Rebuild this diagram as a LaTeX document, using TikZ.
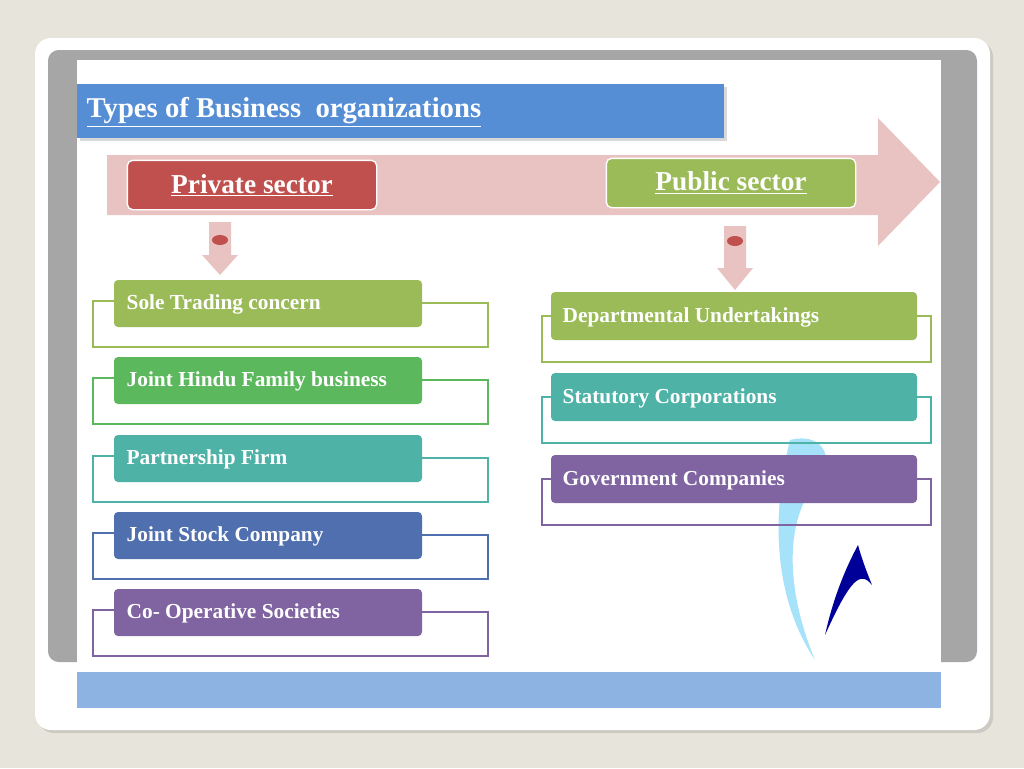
\documentclass[tikz,border=0pt]{standalone}
\usepackage{fontspec}
\setmainfont{Liberation Serif}
\usetikzlibrary{shadows}
\definecolor{bgc}{HTML}{E7E4DB}
\definecolor{grayp}{HTML}{A6A6A6}
\definecolor{titleb}{HTML}{558ED5}
\definecolor{barb}{HTML}{8DB3E2}
\definecolor{pinkc}{HTML}{E8C3C2}
\definecolor{redc}{HTML}{C0504D}
\definecolor{greenc}{HTML}{9BBB59}
\definecolor{green2}{HTML}{5CB85C}
\definecolor{tealc}{HTML}{4FB2A6}
\definecolor{bluec}{HTML}{4F6FAE}
\definecolor{purc}{HTML}{8064A2}
\tikzset{x=0.75pt,y=-0.75pt,
 itemtext/.style={anchor=west,text=white,font=\bfseries\fontsize{16}{18}\selectfont},
 sector/.style={draw=white,line width=1pt,rounded corners=4pt,minimum width=187pt,minimum height=37pt,text=white,font=\bfseries\fontsize{20.5}{22}\selectfont},
 brk/.style={line width=1.2pt}}
\begin{document}
\begin{tikzpicture}
\useasboundingbox (0,0) rectangle (1024,768);
\fill[bgc] (0,0) rectangle (1024,768);
\fill[white,rounded corners=12pt,drop shadow={opacity=0.25}] (35,38) rectangle (990,730);
\fill[grayp,rounded corners=8pt] (48,50) rectangle (977,662);
\fill[white] (77,60) rectangle (941,668);
\fill[barb] (77,672) rectangle (941,708);
% swoosh
\fill[cyan!35] (790,440) .. controls (830,430) and (840,470) .. (805,500) .. controls (785,540) and (790,600) .. (815,660) .. controls (775,600) and (770,520) .. (790,440);
\fill[blue!60!black] (825,635) .. controls (835,590) and (850,560) .. (858,545) .. controls (862,560) and (868,575) .. (872,585) .. controls (860,570) and (850,580) .. (825,635);
% title
\fill[titleb,drop shadow={opacity=0.3}] (77,84) rectangle (724,138);
\node[anchor=west,text=white,font=\bfseries\fontsize{21.5}{24}\selectfont] (title) at (82,112) {\underline{Types of Business\ \ organizations}};
% big arrow
\fill[pinkc] (107,155) -- (878,155) -- (878,118) -- (940,182) -- (878,246) -- (878,215) -- (107,215) -- cycle;
\node[sector,fill=redc] (priv) at (252,185) {\underline{Private sector}};
\node[sector,fill=greenc] (pub) at (731,183) {\underline{Public sector}};
% small arrows
\fill[pinkc] (209,222) -- (231,222) -- (231,255) -- (238,255) -- (220,275) -- (202,255) -- (209,255) -- cycle;
\fill[redc] (220,240) ellipse (8 and 5);
\fill[pinkc] (724,226) -- (746,226) -- (746,268) -- (753,268) -- (735,290) -- (717,268) -- (724,268) -- cycle;
\fill[redc] (735,241) ellipse (8 and 5);
% left items
\foreach \y/\c/\t/\n in {280/greenc/Sole Trading concern/a,357/green2/Joint Hindu Family business/b,435/tealc/Partnership Firm/c,512/bluec/Joint Stock Company/d,589/purc/Co- Operative Societies/e}{
 \draw[brk,\c] (114,\y+21) -- (93,\y+21) -- (93,\y+67) -- (488,\y+67) -- (488,\y+23) -- (422,\y+23);
 \fill[\c,rounded corners=3pt] (114,\y) rectangle (422,\y+47);
 \node[itemtext] (l\n) at (122,\y+24) {\t};
}
\foreach \y/\c/\t/\n in {292/greenc/Departmental Undertakings/a,373/tealc/Statutory Corporations/b,455/purc/Government Companies/c}{
 \draw[brk,\c] (551,\y+24) -- (542,\y+24) -- (542,\y+70) -- (931,\y+70) -- (931,\y+24) -- (917,\y+24);
 \fill[\c,rounded corners=3pt] (551,\y) rectangle (917,\y+48);
 \node[itemtext] (r\n) at (558,\y+25) {\t};
}
\end{tikzpicture}
\end{document}
